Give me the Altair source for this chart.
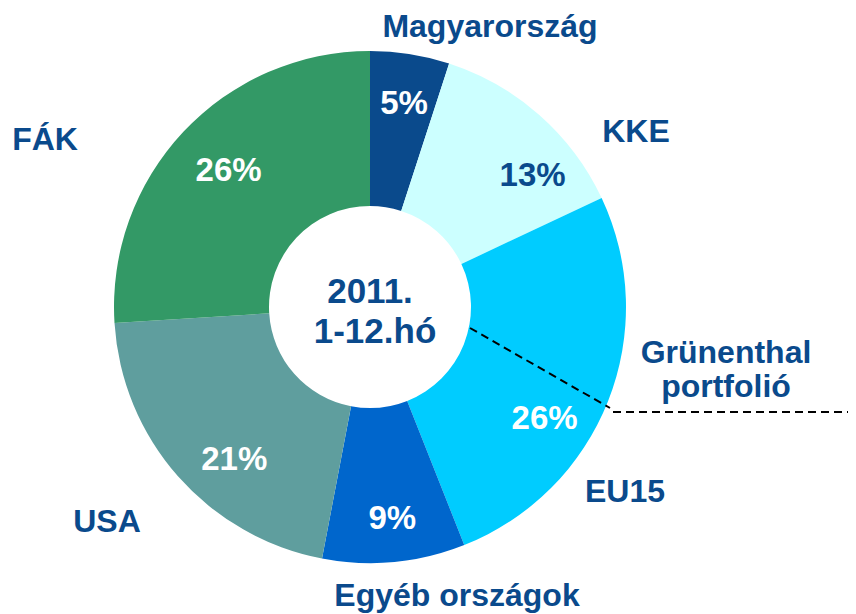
import altair as alt
import pandas as pd

categories = ["Magyarország", "KKE", "EU15", "Egyéb országok", "USA", "FÁK"]
shares = [5, 13, 26, 9, 21, 26]
pct_labels = ["5%", "13%", "26%", "9%", "21%", "26%"]
colors = ["#0a4a8c", "#ccffff", "#00ccff", "#0066cc", "#5f9e9e", "#339966"]
center_lines = ["2011.", "1-12.hó"]
annotation = ["Grünenthal", "portfolió"]

df = pd.DataFrame({"cat": categories, "share": shares, "pct": pct_labels,
                   "idx": list(range(len(categories)))})

CX, CY = 362, 299
DARK = "#0a4a8c"
FONT = "Liberation Sans"

base = alt.Chart(df).encode(
    theta=alt.Theta("share:Q", stack=True),
    order=alt.Order("idx:Q"),
)

arcs = base.mark_arc(outerRadius=256, innerRadius=101).encode(
    x=alt.value(CX), y=alt.value(CY),
    color=alt.Color("cat:N", scale=alt.Scale(domain=categories, range=colors), legend=None),
)

# per-slice label nudges (dx, dy) relative to the slice midpoint
nudges = {"Magyarország": (2, -1), "KKE": (27, 23), "EU15": (-16, 37),
          "Egyéb országok": (3, 8), "USA": (18, 17), "FÁK": (8, 4)}

pct_layers = []
for cat in categories:
    dx, dy = nudges[cat]
    pct_layers.append(
        base.mark_text(radius=205, font=FONT, fontSize=33, fontWeight="bold",
                       baseline="middle", align="center", dx=dx, dy=dy).encode(
            x=alt.value(CX), y=alt.value(CY),
            text=alt.condition(alt.datum.cat == cat, alt.Text("pct:N"), alt.value("")),
            color=alt.value(DARK if cat == "KKE" else "white"),
        )
    )

def label(txt, x, y, size=32):
    return alt.Chart(pd.DataFrame({"t": [txt]})).mark_text(
        font=FONT, fontSize=size, fontWeight="bold", color=DARK,
        align="center", baseline="alphabetic").encode(
        text="t:N", x=alt.value(x), y=alt.value(y))

labels = [
    label(categories[0], 482, 29),
    label(categories[1], 628, 134),
    label(categories[2], 617, 494),
    label(categories[3], 449, 598),
    label(categories[4], 99, 524),
    label(categories[5], 37, 142),
    label(annotation[0], 718, 355),
    label(annotation[1], 718, 389),
    label(center_lines[0], 362, 295, 35),
    label(center_lines[1], 367, 335, 35),
]

dash1 = alt.Chart(pd.DataFrame({"a": [0]})).mark_rule(
    color="black", strokeWidth=2, strokeDash=[8, 5]).encode(
    x=alt.value(462), y=alt.value(320), x2=alt.value(602), y2=alt.value(400))
dash2 = alt.Chart(pd.DataFrame({"a": [0]})).mark_rule(
    color="black", strokeWidth=2, strokeDash=[8, 5]).encode(
    x=alt.value(605), y=alt.value(404), x2=alt.value(848), y2=alt.value(404))

chart = alt.layer(arcs, *pct_layers, *labels, dash1, dash2).properties(
    width=840, height=606, padding=0,
    autosize=alt.AutoSizeParams(type="none"),
).configure_view(stroke=None)

chart.save("out.html", embed_options={"renderer": "svg", "actions": False})
